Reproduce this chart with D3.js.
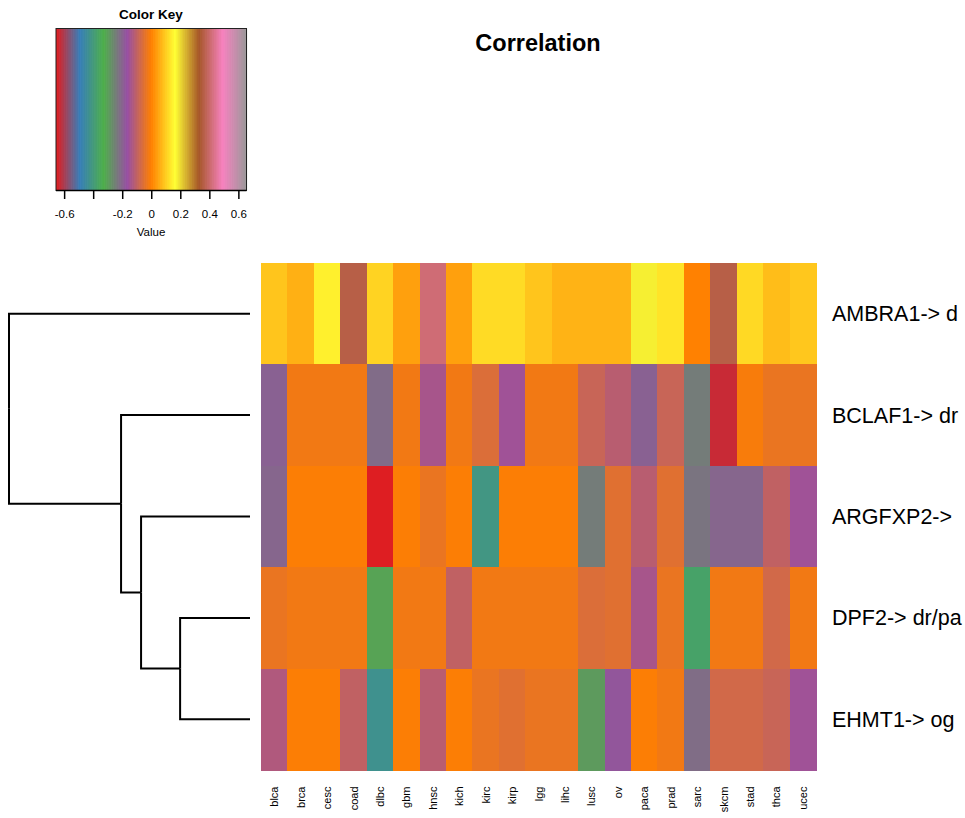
<!DOCTYPE html>
<html><head><meta charset="utf-8">
<script src="https://cdn.jsdelivr.net/npm/d3@7"></script>
<style>body{margin:0;background:#fff;overflow:hidden}svg{display:block;font-family:"Liberation Sans",Arial,sans-serif}</style>
</head><body>
<script>
const columns = ["blca","brca","cesc","coad","dlbc","gbm","hnsc","kich","kirc","kirp","lgg","lihc","lusc","ov","paca","prad","sarc","skcm","stad","thca","ucec"];
const rowLabels = ["AMBRA1-> d","BCLAF1-> dr","ARGFXP2->","DPF2-> dr/pa","EHMT1-> og"];
const rowAMBRA1 = [0.09,0.063,0.145,0.362,0.108,0.042,0.412,0.042,0.118,0.118,0.09,0.066,0.066,0.066,0.18,0.13,0.003,0.362,0.115,0.08,0.092];
const rowBCLAF1 = [-0.196,-0.02,-0.02,-0.02,-0.214,-0.02,-0.14,-0.02,-0.057,-0.152,-0.02,-0.02,-0.088,-0.113,-0.196,-0.088,-0.242,-0.629,-0.011,-0.033,-0.033];
const rowARGFXP2 = [-0.204,-0.005,-0.005,-0.005,-0.65,-0.005,-0.033,-0.005,-0.413,-0.005,-0.005,-0.005,-0.242,-0.049,-0.113,-0.049,-0.229,-0.204,-0.204,-0.1,-0.152];
const rowDPF2 = [-0.033,-0.02,-0.02,-0.02,-0.307,-0.02,-0.02,-0.1,-0.02,-0.02,-0.02,-0.02,-0.057,-0.049,-0.14,-0.033,-0.372,-0.02,-0.02,-0.073,-0.02];
const rowEHMT1 = [-0.126,-0.005,-0.005,-0.1,-0.43,-0.005,-0.113,-0.005,-0.033,-0.049,-0.033,-0.033,-0.293,-0.178,-0.005,-0.02,-0.217,-0.073,-0.073,-0.088,-0.152];
const keyTicks = [-0.6,-0.4,-0.2,0,0.2,0.4,0.6];
const keyTickLabels = ["-0.6","","-0.2","0","0.2","0.4","0.6"];
const palette = ["#E41A1C","#377EB8","#4DAF4A","#984EA3","#FF7F00","#FFFF33","#A65628","#F781BF","#999999"];
// dendrogram merges: children (by row index) and merge height
const merges = [
  {id:"n1", children:[3,4], h:0.29},
  {id:"n2", children:[2,"n1"], h:0.452},
  {id:"n3", children:[1,"n2"], h:0.535},
  {id:"root", children:[0,"n3"], h:1.0}
];
const matrix = [rowAMBRA1,rowBCLAF1,rowARGFXP2,rowDPF2,rowEHMT1];

const W=965,H=818;
const svg=d3.select("body").append("svg").attr("width",W).attr("height",H);
const vmin=-0.656,vmax=0.656;
const color=d3.scaleLinear().domain(d3.range(palette.length).map(i=>vmin+i*(vmax-vmin)/(palette.length-1))).range(palette).interpolate(d3.interpolateRgb).clamp(true);

// heatmap
const x=d3.scaleBand().domain(columns).range([261,816]);
const y=d3.scaleBand().domain(d3.range(rowLabels.length)).range([263,770]);
const cells=[];
matrix.forEach((r,i)=>r.forEach((v,j)=>cells.push({row:i,col:columns[j],v})));
svg.append("g").selectAll("rect").data(cells).join("rect")
  .attr("x",d=>x(d.col)).attr("y",d=>y(d.row))
  .attr("width",x.bandwidth()+0.5).attr("height",y.bandwidth()+0.5)
  .attr("fill",d=>color(d.v)).attr("shape-rendering","crispEdges");

// row labels
svg.append("g").selectAll("text").data(rowLabels).join("text")
  .attr("x",832).attr("y",(d,i)=>y(i)+y.bandwidth()/2+7.5)
  .attr("font-size",21.5).attr("fill","#000").text(d=>d);

// column labels
svg.append("g").selectAll("text").data(columns).join("text")
  .attr("transform",d=>`translate(${x(d)+x.bandwidth()/2+4},786.5) rotate(-90)`)
  .attr("text-anchor","end").attr("font-size",11).attr("fill","#000").text(d=>d);

// dendrogram
const byId=new Map();
rowLabels.forEach((l,i)=>byId.set(i,{name:i,h:0}));
merges.forEach(m=>byId.set(m.id,{name:m.id,h:m.h,children:m.children.map(c=>byId.get(c))}));
const root=d3.hierarchy(byId.get("root"));
const hx=d3.scaleLinear().domain([0,1]).range([250,9]);
root.eachAfter(n=>{n.py = n.children ? (n.children[0].py+n.children[1].py)/2 : y(n.data.name)+y.bandwidth()/2;});
const g=svg.append("g").attr("fill","none").attr("stroke","#000").attr("stroke-width",2);
root.each(n=>{
  if(!n.children) return;
  const xn=hx(n.data.h);
  n.children.forEach(c=>{
    g.append("path").attr("d",`M${xn},${n.py}V${c.py}H${hx(c.data.h)}`);
  });
});

// title
svg.append("text").attr("x",538).attr("y",51).attr("text-anchor","middle")
  .attr("font-size",23.5).attr("font-weight","bold").text("Correlation");

// color key
const kx=d3.scaleLinear().domain([vmin,vmax]).range([56,246.5]);
const N=300;
const steps=d3.range(0,N).map(i=>vmin+(i+0.5)*(vmax-vmin)/N);
const kg=svg.append("g");
kg.selectAll("rect").data(steps).join("rect")
  .attr("x",d=>kx(d-(vmax-vmin)/(2*N))).attr("y",28.5).attr("width",(kx(vmax)-kx(vmin))/N+0.6).attr("height",162)
  .attr("fill",d=>color(d));
kg.append("rect").attr("x",56).attr("y",28.5).attr("width",kx(vmax)-56).attr("height",162)
  .attr("fill","none").attr("stroke","#222").attr("stroke-width",1);
const ax=kg.append("g").attr("transform","translate(0,190.5)")
  .call(d3.axisBottom(kx).tickValues(keyTicks).tickSize(8.5).tickFormat((d,i)=>keyTickLabels[i]));
ax.select(".domain").attr("stroke","#000").attr("stroke-width",1.5).attr("d",`M${kx(vmin)},0H${kx(vmax)}`);
ax.selectAll(".tick line").attr("stroke","#000").attr("stroke-width",1.5);
ax.selectAll(".tick text").attr("font-size",11.5).attr("font-family","Liberation Sans, Arial, sans-serif").attr("fill","#000").attr("y",19.5);
svg.append("text").attr("x",151).attr("y",236).attr("text-anchor","middle").attr("font-size",11.5).text("Value");
svg.append("text").attr("x",151).attr("y",19).attr("text-anchor","middle").attr("font-size",13.5).attr("font-weight","bold").text("Color Key");
</script>
</body></html>
